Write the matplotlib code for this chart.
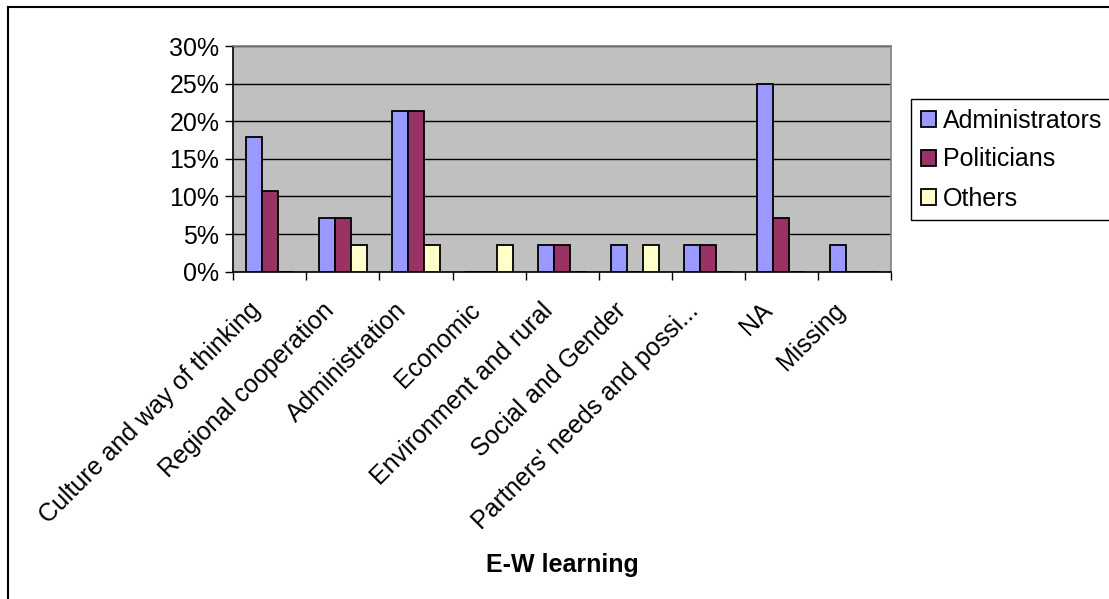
import numpy as np
import matplotlib
matplotlib.use("Agg")
import matplotlib.pyplot as plt
import matplotlib.transforms as mtransforms
from matplotlib.lines import Line2D
from matplotlib.ticker import MultipleLocator, PercentFormatter

plt.rcParams['font.family'] = ['Liberation Sans', 'DejaVu Sans']

categories = ["Culture and way of thinking", "Regional cooperation", "Administration",
              "Economic", "Environment and rural", "Social and Gender",
              "Partners' needs and possi...", "NA", "Missing"]
administrators = [0.179, 0.071, 0.214, 0.0, 0.036, 0.036, 0.036, 0.25, 0.036]
politicians = [0.107, 0.071, 0.214, 0.0, 0.036, 0.0, 0.036, 0.071, 0.0]
others = [0.0, 0.036, 0.036, 0.036, 0.0, 0.036, 0.0, 0.0, 0.0]
series_names = ["Administrators", "Politicians", "Others"]
colors = ["#9999FF", "#993366", "#FFFFCC"]

FS = 18
W, H = 1109, 599

fig = plt.figure(figsize=(W / 100, H / 100), dpi=100)
ax = fig.add_axes([233.3 / W, 1 - 271.7 / H, (891 - 233.3) / W, (271.7 - 46) / H])
ax.set_facecolor("#C0C0C0")

x = np.arange(len(categories))
bw = 0.22
for i, (vals, name, c) in enumerate(zip([administrators, politicians, others], series_names, colors)):
    ax.bar(x + (i - 1) * bw, vals, bw, color=c, edgecolor="black", linewidth=1.3,
           label=name, zorder=3)

ax.set_xlim(-0.5, len(categories) - 0.5)
ax.set_ylim(0, 0.30)
ax.yaxis.set_major_locator(MultipleLocator(0.05))
ax.yaxis.set_major_formatter(PercentFormatter(1.0, decimals=0))
ax.grid(axis="y", color="black", linewidth=1, zorder=1)
ax.set_axisbelow(True)

# category boundaries carry the tick marks, labels are drawn by hand
ax.set_xticks(np.arange(-0.5, len(categories), 1))
ax.set_xticklabels([])
ax.tick_params(axis="x", direction="out", length=6, width=1, color="black")
ax.tick_params(axis="y", direction="out", length=6, width=1, labelsize=FS, pad=4)

for s in ["top", "right"]:
    ax.spines[s].set_color("#808080")
    ax.spines[s].set_linewidth(1.2)
for s in ["left", "bottom"]:
    ax.spines[s].set_color("black")
    ax.spines[s].set_linewidth(1.2)

trans = mtransforms.blended_transform_factory(ax.transData, ax.transAxes) + \
    mtransforms.ScaledTranslation(-13 / 100, -35 / 100, fig.dpi_scale_trans)
for xi, lab in zip(x, categories):
    ax.text(xi, 0, lab, transform=trans, rotation=45, ha="right", va="center",
            rotation_mode="anchor", fontsize=FS)

fig.text(562 / W, 1 - 565 / H, "E-W learning", ha="center", va="center",
         fontsize=FS, fontweight="bold")

leg = ax.legend(loc="upper left", bbox_to_anchor=(911 / W, 1 - 99 / H),
                bbox_transform=fig.transFigure, borderaxespad=0, fontsize=FS,
                fancybox=False, edgecolor="black", framealpha=1,
                handlelength=0.6, handleheight=0.6, handletextpad=0.3,
                labelspacing=0.6, borderpad=0.38)
leg.get_frame().set_linewidth(1)

# chart area border (top and left edges)
fig.add_artist(Line2D([8.3 / W, 1], [1 - 7 / H, 1 - 7 / H], color="black", linewidth=1.5))
fig.add_artist(Line2D([8.3 / W, 8.3 / W], [0, 1 - 7 / H], color="black", linewidth=1.5))

fig.savefig("out.png", dpi=100)
